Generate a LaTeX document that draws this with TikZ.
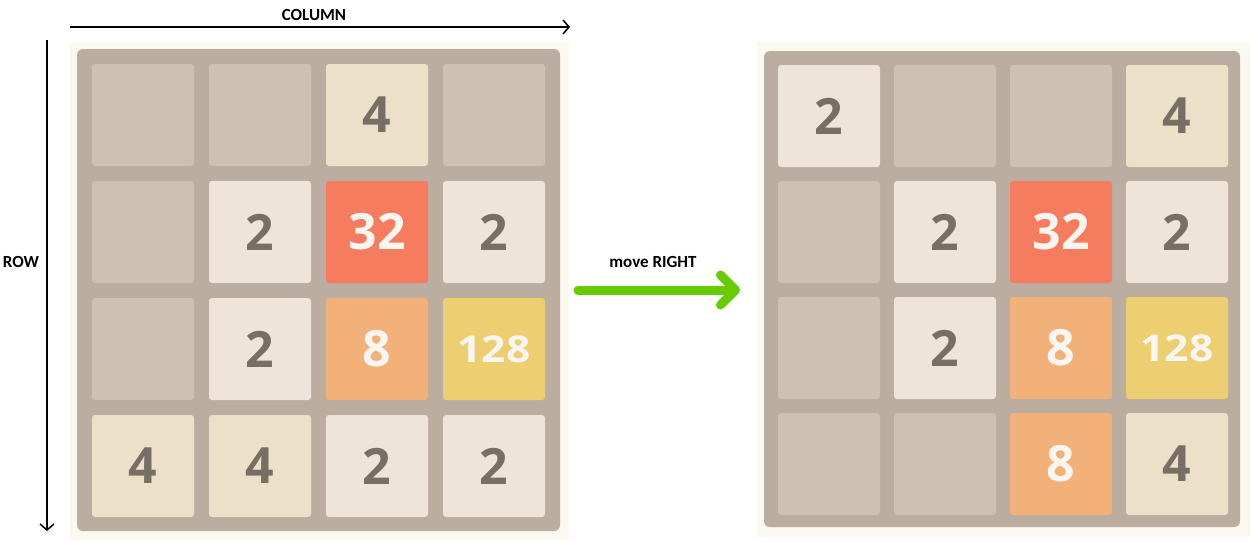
\documentclass[tikz,border=0pt]{standalone}
\usepackage{fontspec}
\setmainfont{Carlito}
\newfontfamily\numfont{Open Sans}
\newfontfamily\numfontwide{Open Sans}[FakeStretch=1.15]
\usetikzlibrary{arrows.meta}
\definecolor{cream}{HTML}{FAF8EF}
\definecolor{boardc}{HTML}{BBADA0}
\definecolor{emptyc}{HTML}{CDC1B4}
\definecolor{c2}{HTML}{EEE4DA}
\definecolor{c4}{HTML}{EDE0C8}
\definecolor{c8}{HTML}{F2B179}
\definecolor{c32}{HTML}{F67C5F}
\definecolor{c128}{HTML}{EDCF72}
\definecolor{darktxt}{HTML}{776E65}
\definecolor{lighttxt}{HTML}{F9F6F2}
\definecolor{movegreen}{HTML}{66CC00}
\tikzset{
  bgbox/.style={fill=cream, draw=none},
  boardbox/.style={fill=boardc, draw=none, rounded corners=6pt},
  tile/.style={draw=none, rounded corners=3pt, minimum width=102pt, minimum height=102pt, inner sep=0pt,
    font=\numfont\bfseries\fontsize{50}{50}\selectfont},
  t0/.style={fill=emptyc},
  t2/.style={fill=c2, text=darktxt},
  t4/.style={fill=c4, text=darktxt},
  t8/.style={fill=c8, text=lighttxt},
  t32/.style={fill=c32, text=lighttxt},
  t128/.style={fill=c128, text=lighttxt, font=\numfontwide\bfseries\fontsize{37}{37}\selectfont},
  axisarrow/.style={draw=black, line width=1.5pt, -{Straight Barb[length=6pt, width=14pt]}},
  movearrow/.style={draw=movegreen, line width=9pt, line cap=round, -{Straight Barb[round, length=15pt, width=30pt]}},
  lbl/.style={font=\bfseries\fontsize{17}{17}\selectfont, text=black, inner sep=0pt}
}
\begin{document}
\begin{tikzpicture}[x=1pt, y=-1pt]
\useasboundingbox (0,0) rectangle (1252,541);
\fill[white] (0,0) rectangle (1252,541);
% left board
\path[bgbox] (70,42) rectangle (569,540);
\path[boardbox] (77,49) rectangle (560,531);
\foreach \v [count=\i from 0] in {0,0,4,0, 0,2,32,2, 0,2,8,128, 4,4,2,2} {
  \pgfmathtruncatemacro{\r}{div(\i,4)}
  \pgfmathtruncatemacro{\c}{mod(\i,4)}
  \ifnum\v=0
    \node[tile, t0] (L-\r-\c) at ({143+117*\c},{115+117*\r}) {};
  \else
    \node[tile, t\v] (L-\r-\c) at ({143+117*\c},{115+117*\r}) {\v};
  \fi
}
% right board
\path[bgbox] (757,42) rectangle (1250,537);
\path[boardbox] (764,51) rectangle (1240,527);
\foreach \v [count=\i from 0] in {2,0,0,4, 0,2,32,2, 0,2,8,128, 0,0,8,4} {
  \pgfmathtruncatemacro{\r}{div(\i,4)}
  \pgfmathtruncatemacro{\c}{mod(\i,4)}
  \ifnum\v=0
    \node[tile, t0] (R-\r-\c) at ({829+116*\c},{116+116*\r}) {};
  \else
    \node[tile, t\v] (R-\r-\c) at ({829+116*\c},{116+116*\r}) {\v};
  \fi
}
% axes
\coordinate (colS) at (70,27);
\coordinate (colE) at (570,27);
\coordinate (rowS) at (47,40);
\coordinate (rowE) at (47,531);
\draw[axisarrow] (colS) -- (colE);
\draw[axisarrow] (rowS) -- (rowE);
\node[lbl] (collbl) at (314,15) {COLUMN};
\node[lbl] (rowlbl) at (21,262) {ROW};
% move
\coordinate (mvS) at (578,290);
\coordinate (mvE) at (740,290);
\draw[movearrow] (mvS) -- (mvE);
\node[lbl] (mvlbl) at (653,262) {move RIGHT};
\end{tikzpicture}
\end{document}
